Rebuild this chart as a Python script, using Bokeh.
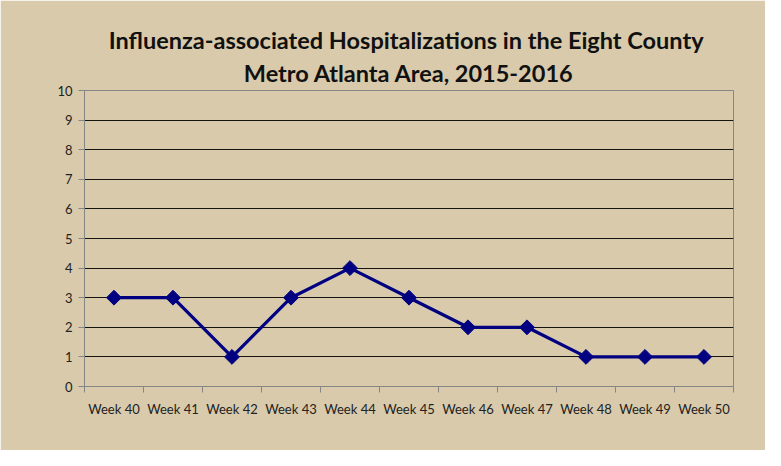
import math
from bokeh.plotting import figure
from bokeh.models import Range1d, FixedTicker, Title
from bokeh.embed import file_html
from bokeh.resources import INLINE

weeks = ["Week 40", "Week 41", "Week 42", "Week 43", "Week 44", "Week 45",
         "Week 46", "Week 47", "Week 48", "Week 49", "Week 50"]
hospitalizations = [3, 3, 1, 3, 4, 3, 2, 2, 1, 1, 1]
y_ticks = list(range(0, 11))

BG = "#D8CAAB"
xs = [i + 0.5 for i in range(len(weeks))]

p = figure(width=765, height=450, output_backend="svg", toolbar_location=None,
           x_range=Range1d(0, len(weeks)), y_range=Range1d(0, 10),
           min_border_left=84, min_border_right=32, min_border_bottom=64, min_border_top=90)
p.background_fill_color = BG
p.border_fill_color = BG
p.outline_line_color = "#868686"
p.outline_line_width = 1

p.title.text = ""
t2 = Title(text="Metro Atlanta Area, 2015-2016", align="center",
           text_font="Lato", text_font_style="bold", text_font_size="23.5px", text_color="#111111",
           standoff=7)
t1 = Title(text="Influenza-associated Hospitalizations in the  Eight County", align="center",
           text_font="Lato", text_font_style="bold", text_font_size="23.5px", text_color="#111111",
           standoff=0)
p.add_layout(t2, "above")
p.add_layout(t1, "above")

p.line(xs, hospitalizations, line_color="#000080", line_width=3.2)
p.scatter(xs, hospitalizations, marker="square", angle=math.pi / 4, size=10.5,
          fill_color="#000080", line_color="#000080")

# x axis
p.xaxis.ticker = FixedTicker(ticks=xs, minor_ticks=list(range(len(weeks) + 1)))
p.xaxis.major_label_overrides = {x: w for x, w in zip(xs, weeks)}
p.xaxis.major_tick_out = 0
p.xaxis.major_tick_in = 0
p.xaxis.minor_tick_out = 6
p.xaxis.minor_tick_in = 0
p.xaxis.minor_tick_line_color = "#868686"
p.xaxis.axis_line_color = "#868686"
p.xaxis.major_label_text_font = "Lato"
p.xaxis.major_label_text_font_size = "13px"
p.xaxis.major_label_text_color = "#222222"
p.xaxis.major_label_standoff = 8

# y axis
p.yaxis.ticker = FixedTicker(ticks=y_ticks)
p.yaxis.major_tick_out = 6
p.yaxis.major_tick_in = 0
p.yaxis.minor_tick_line_color = None
p.yaxis.major_tick_line_color = "#868686"
p.yaxis.axis_line_color = "#868686"
p.yaxis.major_label_text_font = "Lato"
p.yaxis.major_label_text_font_size = "13px"
p.yaxis.major_label_text_color = "#222222"
p.yaxis.major_label_standoff = 6

p.xgrid.grid_line_color = None
p.ygrid.grid_line_color = "#000000"
p.ygrid.grid_line_width = 1
p.ygrid.grid_line_alpha = 0.9

open("out.html", "w").write(file_html(p, INLINE))
